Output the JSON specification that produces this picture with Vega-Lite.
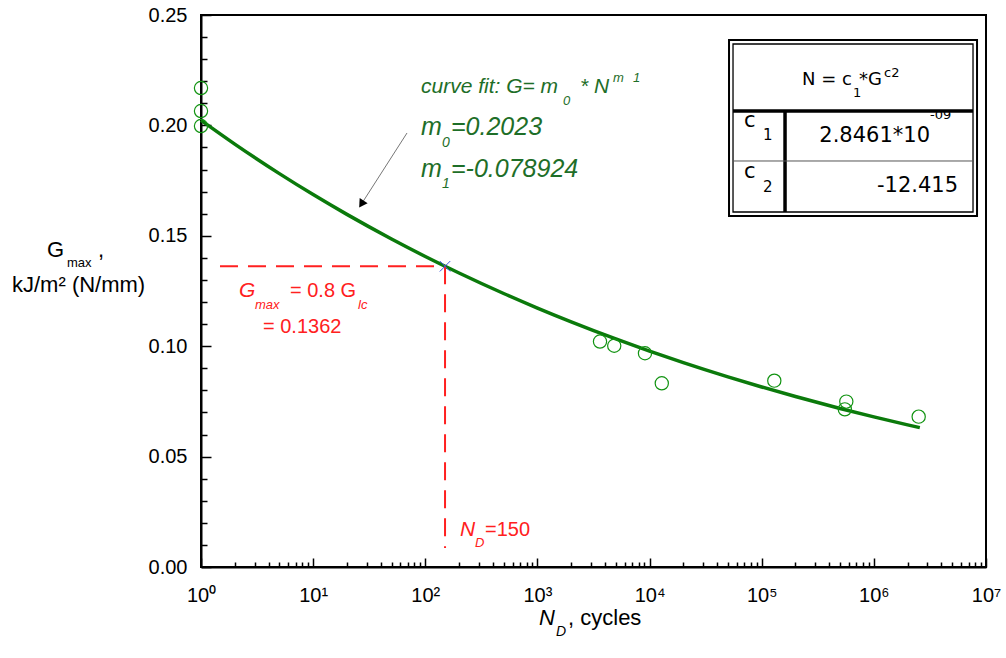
{
"$schema": "https://vega.github.io/schema/vega-lite/v6.json",
"width": 785, "height": 552, "autosize": "none",
"padding": {"left": 201, "top": 15, "right": 20, "bottom": 91},
"background": "white",
"config": {"view": {"stroke": "black", "strokeWidth": 2}},
"datasets": {
 "fit": [{"N":1,"G":0.2023},{"N":2,"G":0.19153},{"N":5,"G":0.17817},{"N":10,"G":0.16868},{"N":20,"G":0.1597},{"N":50,"G":0.14856},{"N":100,"G":0.14065},{"N":200,"G":0.13316},{"N":500,"G":0.12387},{"N":1000,"G":0.11728},{"N":2000,"G":0.11104},{"N":5000,"G":0.10329},{"N":10000,"G":0.09779},{"N":20000,"G":0.09258},{"N":50000,"G":0.08612},{"N":100000,"G":0.08154},{"N":200000,"G":0.0772},{"N":500000,"G":0.07181},{"N":1000000,"G":0.06799},{"N":2000000,"G":0.06437},{"N":2570000,"G":0.06311}],
 "pts": [{"N":1,"G":0.2169},{"N":1,"G":0.2065},{"N":1,"G":0.1997},{"N":3614,"G":0.1021},{"N":4840,"G":0.1002},{"N":9100,"G":0.0968},{"N":12850,"G":0.0832},{"N":129500,"G":0.0844},{"N":568000,"G":0.0749},{"N":551000,"G":0.0714},{"N":2510000,"G":0.0681}],
 "dash": [{"N":1.477,"G":0.1362,"N2":150,"G2":0.1362},{"N":150,"G":0.1362,"N2":150,"G2":0.0086}],
 "cross": [{"N":150,"G":0.1362}],
 "arrowline": [{"N":68.7,"G":0.19656,"N2":26.94,"G2":0.16436}],
 "arrowhead": [{"N":26.94,"G":0.16436}],
 "tblOuter": [{"N":51100,"G":0.23868,"N2":8318000,"G2":0.15897}],
 "tblInner": [{"N":55480,"G":0.23687,"N2":7660000,"G2":0.16078}],
 "tblThick": [{"N":55480,"G":0.20652,"N2":7660000,"G2":0.20652},{"N":161400,"G":0.20652,"N2":161400,"G2":0.16078}],
 "tblThin": [{"N":55480,"G":0.18388,"N2":7660000,"G2":0.18388}],
 "gText": [{"N":91.58,"G":0.21467,"t":"curve fit: G= m"},{"N":2397,"G":0.21467,"t":"* N"}],
 "gText2": [{"N":91.58,"G":0.19565,"t":"m"},{"N":169.6,"G":0.19565,"t":"=0.2023"},{"N":91.58,"G":0.17663,"t":"m"},{"N":169.6,"G":0.17663,"t":"=-0.078924"}],
 "gSub": [{"N":1691,"G":0.20924,"t":"0"},{"N":4721,"G":0.21966,"t":"m"},{"N":7117,"G":0.21966,"t":"1"}],
 "gSub2": [{"N":141,"G":0.19022,"t":"0"},{"N":141,"G":0.17165,"t":"1"}],
 "rText": [{"N":6.2193,"G":0.12228,"t":"= 0.8 G"},{"N":3.5714,"G":0.10598,"t":"= 0.1362"},{"N":340.8,"G":0.01404,"t":"=150"}],
 "rItal": [{"N":2.1823,"G":0.12228,"t":"G"},{"N":204,"G":0.01404,"t":"N"}],
 "rSub": [{"N":3.0302,"G":0.11685,"t":"max"},{"N":25.12,"G":0.11685,"t":"lc"},{"N":277.6,"G":0.00906,"t":"D"}],
 "kText": [{"N":0.04233,"G":0.1404,"t":"G"},{"N":0.12065,"G":0.1404,"t":","},{"N":0.02064,"G":0.12455,"t":"kJ/m² (N/mm)"},{"N":1874,"G":-0.02627,"t":", cycles"}],
 "kSub": [{"N":0.06383,"G":0.13587,"t":"max"}],
 "kItal": [{"N":1032.9,"G":-0.02627,"t":"N"}],
 "kItalSub": [{"N":1465,"G":-0.03125,"t":"D"}],
 "tHead": [{"N":228800,"G":0.2183,"t":"N = c"},{"N":737500,"G":0.2183,"t":"*G"}],
 "tHeadSub": [{"N":652000,"G":0.213,"t":"1"},{"N":1232000,"G":0.22192,"t":"c2"},{"N":3168000,"G":0.20276,"t":"-09"}],
 "tText": [{"N":69530,"G":0.19941,"t":"c"},{"N":69530,"G":0.1764,"t":"c"}],
 "tTextR": [{"N":3168000,"G":0.19262,"t":"2.8461*10"},{"N":5630000,"G":0.1697,"t":"-12.415"}],
 "tSub": [{"N":102700,"G":0.19339,"t":"1"},{"N":102700,"G":0.16984,"t":"2"}]
},
"encoding": {
 "x": {"field": "N", "type": "quantitative",
   "scale": {"type": "log", "domain": [1, 10000000]},
   "axis": {"title": null, "grid": false,
     "values": [1,2,3,4,5,6,7,8,9,10,20,30,40,50,60,70,80,90,100,200,300,400,500,600,700,800,900,1000,2000,3000,4000,5000,6000,7000,8000,9000,10000,20000,30000,40000,50000,60000,70000,80000,90000,100000,200000,300000,400000,500000,600000,700000,800000,900000,1000000,2000000,3000000,4000000,5000000,6000000,7000000,8000000,9000000,10000000],
     "labelExpr": "abs(log(datum.value)/LN10 - round(log(datum.value)/LN10)) < 0.001 ? '10' + ['⁰','¹','²','³','⁴','⁵','⁶','⁷'][round(log(datum.value)/LN10)] : ''",
     "tickSize": {"condition": {"test": "abs(log(datum.value)/LN10 - round(log(datum.value)/LN10)) < 0.001", "value": -9}, "value": -5},
     "labelFont": "Liberation Sans", "labelFontSize": 20, "labelColor": "black", "labelPadding": 27,
     "labelOverlap": false, "labelFlush": false, "domainColor": "black", "domainWidth": 2,
     "tickColor": "black", "tickWidth": 1.5}},
 "y": {"field": "G", "type": "quantitative",
   "scale": {"domain": [0, 0.25], "nice": false, "zero": false},
   "axis": {"title": null, "grid": false,
     "values": [0,0.01,0.02,0.03,0.04,0.05,0.06,0.07,0.08,0.09,0.1,0.11,0.12,0.13,0.14,0.15,0.16,0.17,0.18,0.19,0.2,0.21,0.22,0.23,0.24,0.25],
     "labelExpr": "abs(datum.value*20 - round(datum.value*20)) < 0.001 ? format(datum.value, '.2f') : ''",
     "tickSize": {"condition": {"test": "abs(datum.value*20 - round(datum.value*20)) < 0.001", "value": -10}, "value": -6},
     "labelFont": "Liberation Sans", "labelFontSize": 20, "labelColor": "black", "labelPadding": 24,
     "labelOverlap": false, "labelFlush": false, "domainColor": "black", "domainWidth": 2,
     "tickColor": "black", "tickWidth": 1.5}}
},
"layer": [
 {"data": {"name": "fit"}, "mark": {"type": "line", "color": "#0b7a0b", "strokeWidth": 3.5, "interpolate": "monotone"}},
 {"data": {"name": "pts"}, "mark": {"type": "point", "shape": "circle", "filled": false, "size": 175, "color": "#119311", "strokeWidth": 1.2, "opacity": 1}},
 {"data": {"name": "dash"}, "mark": {"type": "rule", "color": "#ff2020", "strokeWidth": 2, "strokeDash": [18, 10]},
  "encoding": {"x2": {"field": "N2"}, "y2": {"field": "G2"}}},
 {"data": {"name": "cross"}, "mark": {"type": "point", "shape": "M-1,-1L1,1M-1,1L1,-1", "size": 110, "filled": false, "color": "#3a55dd", "strokeWidth": 1, "opacity": 1}},
 {"data": {"name": "arrowline"}, "mark": {"type": "rule", "color": "#777777", "strokeWidth": 1},
  "encoding": {"x2": {"field": "N2"}, "y2": {"field": "G2"}}},
 {"data": {"name": "arrowhead"}, "mark": {"type": "point", "shape": "triangle-down", "filled": true, "size": 90, "color": "black", "angle": 33, "opacity": 1}},
 {"data": {"name": "tblOuter"}, "mark": {"type": "rect", "fill": "white", "stroke": "black", "strokeWidth": 2},
  "encoding": {"x2": {"field": "N2"}, "y2": {"field": "G2"}}},
 {"data": {"name": "tblInner"}, "mark": {"type": "rect", "fill": null, "fillOpacity": 0, "stroke": "black", "strokeWidth": 1.3},
  "encoding": {"x2": {"field": "N2"}, "y2": {"field": "G2"}}},
 {"data": {"name": "tblThick"}, "mark": {"type": "rule", "color": "black", "strokeWidth": 3.5},
  "encoding": {"x2": {"field": "N2"}, "y2": {"field": "G2"}}},
 {"data": {"name": "tblThin"}, "mark": {"type": "rule", "color": "#555555", "strokeWidth": 1},
  "encoding": {"x2": {"field": "N2"}, "y2": {"field": "G2"}}},
 {"data": {"name": "gText"}, "mark": {"type": "text", "font": "Liberation Sans", "fontSize": 21, "fontStyle": "italic", "color": "#1e6e28", "align": "left", "baseline": "alphabetic"}, "encoding": {"text": {"field": "t"}}},
 {"data": {"name": "gText2"}, "mark": {"type": "text", "font": "Liberation Sans", "fontSize": 25, "fontStyle": "italic", "color": "#1e6e28", "align": "left", "baseline": "alphabetic"}, "encoding": {"text": {"field": "t"}}},
 {"data": {"name": "gSub"}, "mark": {"type": "text", "font": "Liberation Sans", "fontSize": 13, "fontStyle": "italic", "color": "#1e6e28", "align": "left", "baseline": "alphabetic"}, "encoding": {"text": {"field": "t"}}},
 {"data": {"name": "gSub2"}, "mark": {"type": "text", "font": "Liberation Sans", "fontSize": 14, "fontStyle": "italic", "color": "#1e6e28", "align": "left", "baseline": "alphabetic"}, "encoding": {"text": {"field": "t"}}},
 {"data": {"name": "rText"}, "mark": {"type": "text", "font": "Liberation Sans", "fontSize": 20, "color": "#ff2020", "align": "left", "baseline": "alphabetic"}, "encoding": {"text": {"field": "t"}}},
 {"data": {"name": "rItal"}, "mark": {"type": "text", "font": "Liberation Sans", "fontSize": 21, "fontStyle": "italic", "color": "#ff2020", "align": "left", "baseline": "alphabetic"}, "encoding": {"text": {"field": "t"}}},
 {"data": {"name": "rSub"}, "mark": {"type": "text", "font": "Liberation Sans", "fontSize": 13, "fontStyle": "italic", "color": "#ff2020", "align": "left", "baseline": "alphabetic"}, "encoding": {"text": {"field": "t"}}},
 {"data": {"name": "kText"}, "mark": {"type": "text", "font": "Liberation Sans", "fontSize": 22, "color": "black", "align": "left", "baseline": "alphabetic"}, "encoding": {"text": {"field": "t"}}},
 {"data": {"name": "kSub"}, "mark": {"type": "text", "font": "Liberation Sans", "fontSize": 13, "color": "black", "align": "left", "baseline": "alphabetic"}, "encoding": {"text": {"field": "t"}}},
 {"data": {"name": "kItal"}, "mark": {"type": "text", "font": "Liberation Sans", "fontSize": 22, "fontStyle": "italic", "color": "black", "align": "left", "baseline": "alphabetic"}, "encoding": {"text": {"field": "t"}}},
 {"data": {"name": "kItalSub"}, "mark": {"type": "text", "font": "Liberation Sans", "fontSize": 14, "fontStyle": "italic", "color": "black", "align": "left", "baseline": "alphabetic"}, "encoding": {"text": {"field": "t"}}},
 {"data": {"name": "tHead"}, "mark": {"type": "text", "font": "DejaVu Sans", "fontSize": 18, "color": "black", "align": "left", "baseline": "alphabetic"}, "encoding": {"text": {"field": "t"}}},
 {"data": {"name": "tHeadSub"}, "mark": {"type": "text", "font": "DejaVu Sans", "fontSize": 13, "color": "black", "align": "left", "baseline": "alphabetic"}, "encoding": {"text": {"field": "t"}}},
 {"data": {"name": "tText"}, "mark": {"type": "text", "font": "DejaVu Sans", "fontSize": 21, "color": "black", "align": "left", "baseline": "alphabetic"}, "encoding": {"text": {"field": "t"}}},
 {"data": {"name": "tTextR"}, "mark": {"type": "text", "font": "DejaVu Sans", "fontSize": 21, "color": "black", "align": "right", "baseline": "alphabetic"}, "encoding": {"text": {"field": "t"}}},
 {"data": {"name": "tSub"}, "mark": {"type": "text", "font": "DejaVu Sans", "fontSize": 15, "color": "black", "align": "left", "baseline": "alphabetic"}, "encoding": {"text": {"field": "t"}}}
]
}
